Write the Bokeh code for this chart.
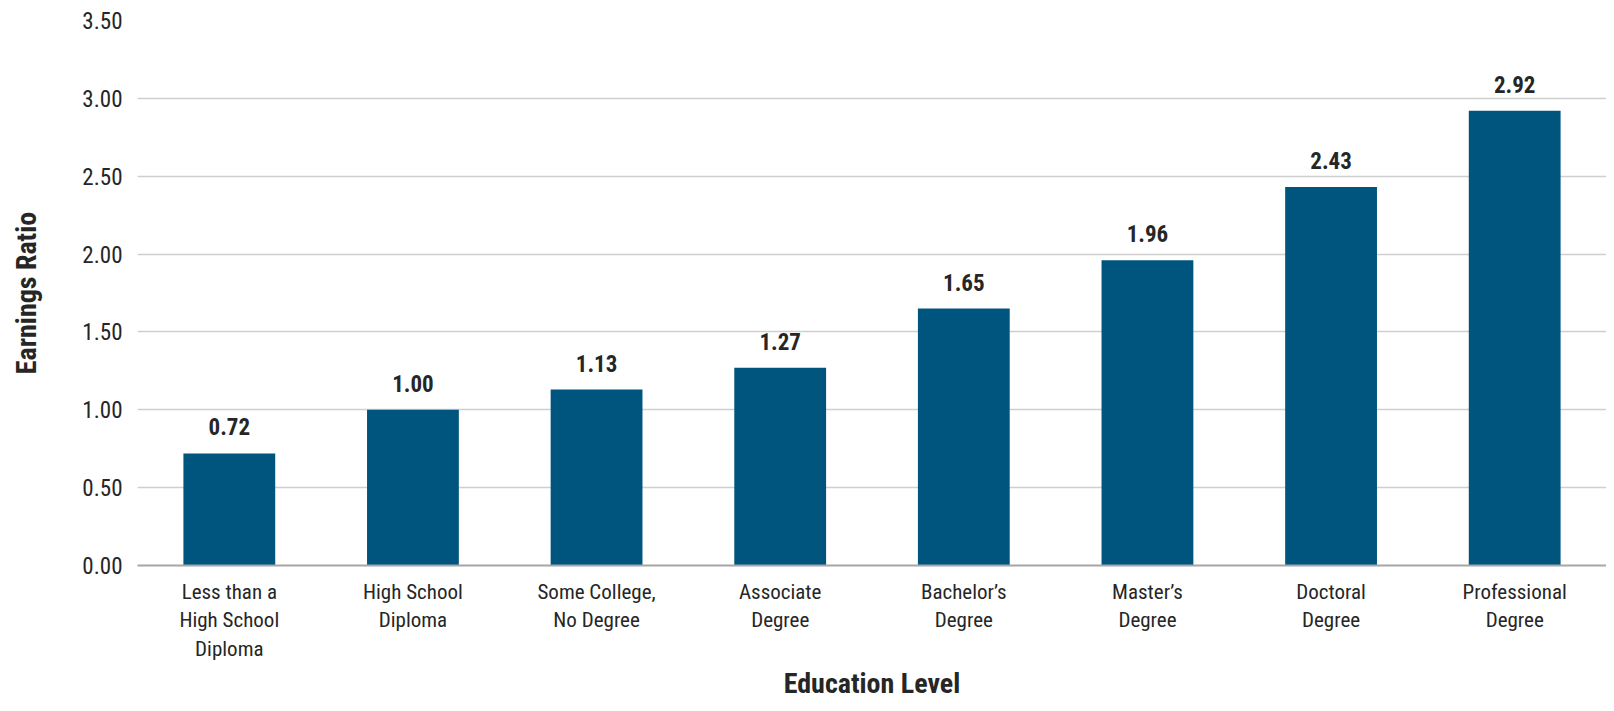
from bokeh.plotting import figure
from bokeh.models import ColumnDataSource, FactorRange, Range1d, FixedTicker, LabelSet, CustomJSTickFormatter
from bokeh.core.properties import value
from bokeh.embed import file_html
from bokeh.resources import INLINE

categories = ["Less than a\nHigh School\nDiploma", "High School\nDiploma", "Some College,\nNo Degree",
              "Associate\nDegree", "Bachelor\u2019s\nDegree", "Master\u2019s\nDegree",
              "Doctoral\nDegree", "Professional\nDegree"]
ratios = [0.72, 1.00, 1.13, 1.27, 1.65, 1.96, 2.43, 2.92]
labels = ["0.72", "1.00", "1.13", "1.27", "1.65", "1.96", "2.43", "2.92"]
y_ticks = [0, 0.5, 1.0, 1.5, 2.0, 2.5, 3.0, 3.5]
x_title = "Education Level"
y_title = "Earnings Ratio"

FONT = "Roboto Condensed"
TXT = "#262626"
BAR = "#00557f"

src = ColumnDataSource(dict(cat=categories, val=ratios, lab=labels))

p = figure(width=1606, height=703, x_range=FactorRange(factors=categories),
           y_range=Range1d(0, 3.5), output_backend="svg", toolbar_location=None,
           min_border_left=137, min_border_right=0, min_border_top=20, min_border_bottom=0)
p.outline_line_color = None

p.vbar(x="cat", top="val", width=0.5, source=src, fill_color=BAR, line_color=None)

p.add_layout(LabelSet(x="cat", y="val", text="lab", source=src, text_align="center",
                      text_baseline="alphabetic", y_offset=18, text_font=value(FONT),
                      text_font_style="bold", text_font_size="23px", text_color=TXT))

p.xgrid.grid_line_color = None
p.ygrid.grid_line_color = "#cfcfcf"
p.ygrid.grid_line_width = 1.5
p.yaxis.ticker = FixedTicker(ticks=y_ticks)
p.yaxis.formatter = CustomJSTickFormatter(code="return tick.toFixed(2);")

p.yaxis.axis_line_color = None
p.yaxis.major_tick_line_color = None
p.yaxis.minor_tick_line_color = None
p.yaxis.major_label_standoff = 9
p.yaxis.major_label_text_font = FONT
p.yaxis.major_label_text_font_size = "23px"
p.yaxis.major_label_text_color = TXT
p.yaxis.axis_label = y_title
p.yaxis.axis_label_text_font = FONT
p.yaxis.axis_label_text_font_style = "bold"
p.yaxis.axis_label_text_font_size = "28px"
p.yaxis.axis_label_text_color = TXT
p.yaxis.axis_label_standoff = 36

p.xaxis.axis_line_color = "#a6a6a6"
p.xaxis.axis_line_width = 2
p.xaxis.major_tick_line_color = None
p.xaxis.minor_tick_line_color = None
p.xaxis.major_label_standoff = 8
p.xaxis.major_label_text_font = FONT
p.xaxis.major_label_text_font_size = "21px"
p.xaxis.major_label_text_color = TXT
p.xaxis.axis_label = x_title
p.xaxis.axis_label_text_font = FONT
p.xaxis.axis_label_text_font_style = "bold"
p.xaxis.axis_label_text_font_size = "28px"
p.xaxis.axis_label_text_color = TXT
p.xaxis.axis_label_standoff = 3

open("out.html", "w").write(file_html(p, INLINE))
